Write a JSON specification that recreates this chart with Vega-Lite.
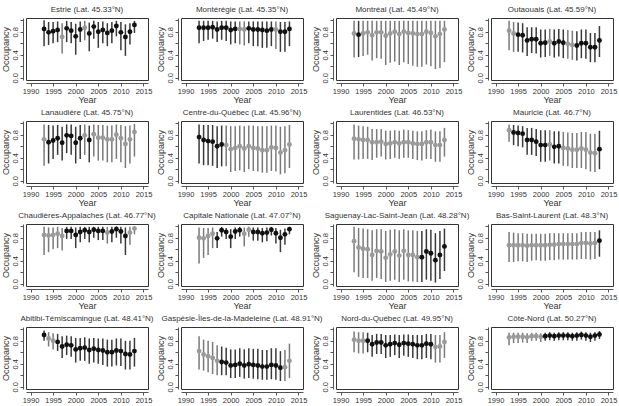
{
"$schema": "https://vega.github.io/schema/vega-lite/v6.json",
"background": "white",
"padding": {"left": 0, "top": 5, "right": 0, "bottom": 0},
"datasets": {
"regions": [
{"p":1,"name":"Estrie (Lat. 45.33°N)"},{"p":2,"name":"Montérégie (Lat. 45.35°N)"},{"p":3,"name":"Montréal (Lat. 45.49°N)"},{"p":4,"name":"Outaouais (Lat. 45.59°N)"},
{"p":5,"name":"Lanaudière (Lat. 45.75°N)"},{"p":6,"name":"Centre-du-Québec (Lat. 45.96°N)"},{"p":7,"name":"Laurentides (Lat. 46.53°N)"},{"p":8,"name":"Mauricie (Lat. 46.7°N)"},
{"p":9,"name":"Chaudières-Appalaches (Lat. 46.77°N)"},{"p":10,"name":"Capitale Nationale (Lat. 47.07°N)"},{"p":11,"name":"Saguenay-Lac-Saint-Jean (Lat. 48.28°N)"},{"p":12,"name":"Bas-Saint-Laurent (Lat. 48.3°N)"},
{"p":13,"name":"Abitibi-Témiscamingue (Lat. 48.41°N)"},{"p":14,"name":"Gaspésie-Îles-de-la-Madeleine (Lat. 48.91°N)"},{"p":15,"name":"Nord-du-Québec (Lat. 49.95°N)"},{"p":16,"name":"Côte-Nord (Lat. 50.27°N)"}
],
"occ": [
{"p":1,"yr":1993,"m":0.85,"lo":0.55,"hi":1.0,"g":"b"},{"p":1,"yr":1994,"m":0.79,"lo":0.57,"hi":0.97,"g":"b"},{"p":1,"yr":1995,"m":0.81,"lo":0.6,"hi":0.97,"g":"b"},{"p":1,"yr":1996,"m":0.83,"lo":0.62,"hi":0.98,"g":"b"},{"p":1,"yr":1997,"m":0.71,"lo":0.42,"hi":0.95,"g":"g"},{"p":1,"yr":1998,"m":0.86,"lo":0.62,"hi":0.99,"g":"b"},{"p":1,"yr":1999,"m":0.82,"lo":0.6,"hi":0.97,"g":"b"},{"p":1,"yr":2000,"m":0.72,"lo":0.4,"hi":0.94,"g":"b"},{"p":1,"yr":2001,"m":0.84,"lo":0.62,"hi":0.98,"g":"b"},{"p":1,"yr":2002,"m":0.87,"lo":0.65,"hi":0.99,"g":"g"},{"p":1,"yr":2003,"m":0.77,"lo":0.46,"hi":0.96,"g":"b"},{"p":1,"yr":2004,"m":0.89,"lo":0.68,"hi":0.99,"g":"b"},{"p":1,"yr":2005,"m":0.8,"lo":0.52,"hi":0.97,"g":"b"},{"p":1,"yr":2006,"m":0.83,"lo":0.6,"hi":0.98,"g":"b"},{"p":1,"yr":2007,"m":0.78,"lo":0.55,"hi":0.95,"g":"b"},{"p":1,"yr":2008,"m":0.82,"lo":0.6,"hi":0.97,"g":"b"},{"p":1,"yr":2009,"m":0.9,"lo":0.72,"hi":0.99,"g":"b"},{"p":1,"yr":2010,"m":0.79,"lo":0.48,"hi":0.97,"g":"b"},{"p":1,"yr":2011,"m":0.71,"lo":0.38,"hi":0.93,"g":"b"},{"p":1,"yr":2012,"m":0.8,"lo":0.58,"hi":0.95,"g":"b"},{"p":1,"yr":2013,"m":0.92,"lo":0.78,"hi":0.99,"g":"b"},
{"p":2,"yr":1993,"m":0.87,"lo":0.6,"hi":0.99,"g":"b"},{"p":2,"yr":1994,"m":0.87,"lo":0.64,"hi":0.99,"g":"b"},{"p":2,"yr":1995,"m":0.87,"lo":0.66,"hi":0.99,"g":"b"},{"p":2,"yr":1996,"m":0.88,"lo":0.68,"hi":0.99,"g":"b"},{"p":2,"yr":1997,"m":0.84,"lo":0.62,"hi":0.98,"g":"b"},{"p":2,"yr":1998,"m":0.87,"lo":0.66,"hi":0.99,"g":"b"},{"p":2,"yr":1999,"m":0.87,"lo":0.64,"hi":0.99,"g":"b"},{"p":2,"yr":2000,"m":0.83,"lo":0.58,"hi":0.98,"g":"b"},{"p":2,"yr":2001,"m":0.85,"lo":0.6,"hi":0.98,"g":"b"},{"p":2,"yr":2002,"m":0.85,"lo":0.58,"hi":0.98,"g":"g"},{"p":2,"yr":2003,"m":0.84,"lo":0.56,"hi":0.98,"g":"g"},{"p":2,"yr":2004,"m":0.86,"lo":0.6,"hi":0.98,"g":"b"},{"p":2,"yr":2005,"m":0.84,"lo":0.55,"hi":0.98,"g":"b"},{"p":2,"yr":2006,"m":0.84,"lo":0.55,"hi":0.98,"g":"b"},{"p":2,"yr":2007,"m":0.83,"lo":0.52,"hi":0.98,"g":"b"},{"p":2,"yr":2008,"m":0.82,"lo":0.52,"hi":0.98,"g":"b"},{"p":2,"yr":2009,"m":0.84,"lo":0.55,"hi":0.98,"g":"b"},{"p":2,"yr":2010,"m":0.84,"lo":0.5,"hi":0.98,"g":"g"},{"p":2,"yr":2011,"m":0.8,"lo":0.45,"hi":0.97,"g":"b"},{"p":2,"yr":2012,"m":0.8,"lo":0.45,"hi":0.97,"g":"b"},{"p":2,"yr":2013,"m":0.85,"lo":0.55,"hi":0.98,"g":"b"},
{"p":3,"yr":1993,"m":0.77,"lo":0.35,"hi":0.99,"g":"g"},{"p":3,"yr":1994,"m":0.75,"lo":0.36,"hi":0.99,"g":"b"},{"p":3,"yr":1995,"m":0.77,"lo":0.38,"hi":0.99,"g":"g"},{"p":3,"yr":1996,"m":0.79,"lo":0.4,"hi":0.99,"g":"g"},{"p":3,"yr":1997,"m":0.74,"lo":0.3,"hi":0.99,"g":"g"},{"p":3,"yr":1998,"m":0.79,"lo":0.34,"hi":0.99,"g":"g"},{"p":3,"yr":1999,"m":0.79,"lo":0.33,"hi":0.99,"g":"g"},{"p":3,"yr":2000,"m":0.73,"lo":0.22,"hi":0.99,"g":"g"},{"p":3,"yr":2001,"m":0.77,"lo":0.26,"hi":0.99,"g":"g"},{"p":3,"yr":2002,"m":0.8,"lo":0.28,"hi":0.99,"g":"g"},{"p":3,"yr":2003,"m":0.76,"lo":0.22,"hi":0.99,"g":"g"},{"p":3,"yr":2004,"m":0.8,"lo":0.27,"hi":0.99,"g":"g"},{"p":3,"yr":2005,"m":0.78,"lo":0.24,"hi":0.99,"g":"g"},{"p":3,"yr":2006,"m":0.77,"lo":0.21,"hi":0.99,"g":"g"},{"p":3,"yr":2007,"m":0.76,"lo":0.19,"hi":0.99,"g":"g"},{"p":3,"yr":2008,"m":0.76,"lo":0.19,"hi":0.99,"g":"g"},{"p":3,"yr":2009,"m":0.8,"lo":0.23,"hi":0.99,"g":"g"},{"p":3,"yr":2010,"m":0.78,"lo":0.2,"hi":0.99,"g":"g"},{"p":3,"yr":2011,"m":0.72,"lo":0.15,"hi":0.99,"g":"g"},{"p":3,"yr":2012,"m":0.76,"lo":0.17,"hi":0.99,"g":"g"},{"p":3,"yr":2013,"m":0.84,"lo":0.27,"hi":0.99,"g":"g"},
{"p":4,"yr":1993,"m":0.82,"lo":0.48,"hi":0.99,"g":"g"},{"p":4,"yr":1994,"m":0.77,"lo":0.45,"hi":0.97,"g":"g"},{"p":4,"yr":1995,"m":0.75,"lo":0.45,"hi":0.96,"g":"b"},{"p":4,"yr":1996,"m":0.74,"lo":0.44,"hi":0.95,"g":"b"},{"p":4,"yr":1997,"m":0.65,"lo":0.38,"hi":0.88,"g":"b"},{"p":4,"yr":1998,"m":0.67,"lo":0.43,"hi":0.88,"g":"b"},{"p":4,"yr":1999,"m":0.67,"lo":0.42,"hi":0.88,"g":"b"},{"p":4,"yr":2000,"m":0.6,"lo":0.35,"hi":0.84,"g":"b"},{"p":4,"yr":2001,"m":0.61,"lo":0.36,"hi":0.84,"g":"b"},{"p":4,"yr":2002,"m":0.63,"lo":0.38,"hi":0.85,"g":"g"},{"p":4,"yr":2003,"m":0.6,"lo":0.35,"hi":0.84,"g":"b"},{"p":4,"yr":2004,"m":0.63,"lo":0.37,"hi":0.85,"g":"b"},{"p":4,"yr":2005,"m":0.61,"lo":0.34,"hi":0.84,"g":"b"},{"p":4,"yr":2006,"m":0.59,"lo":0.33,"hi":0.83,"g":"g"},{"p":4,"yr":2007,"m":0.57,"lo":0.31,"hi":0.82,"g":"g"},{"p":4,"yr":2008,"m":0.56,"lo":0.3,"hi":0.81,"g":"b"},{"p":4,"yr":2009,"m":0.6,"lo":0.34,"hi":0.84,"g":"b"},{"p":4,"yr":2010,"m":0.6,"lo":0.33,"hi":0.84,"g":"b"},{"p":4,"yr":2011,"m":0.53,"lo":0.27,"hi":0.78,"g":"b"},{"p":4,"yr":2012,"m":0.53,"lo":0.27,"hi":0.78,"g":"b"},{"p":4,"yr":2013,"m":0.65,"lo":0.36,"hi":0.9,"g":"b"},
{"p":5,"yr":1993,"m":0.72,"lo":0.26,"hi":0.98,"g":"g"},{"p":5,"yr":1994,"m":0.67,"lo":0.3,"hi":0.97,"g":"b"},{"p":5,"yr":1995,"m":0.7,"lo":0.38,"hi":0.96,"g":"b"},{"p":5,"yr":1996,"m":0.74,"lo":0.45,"hi":0.97,"g":"b"},{"p":5,"yr":1997,"m":0.66,"lo":0.35,"hi":0.94,"g":"b"},{"p":5,"yr":1998,"m":0.79,"lo":0.48,"hi":0.98,"g":"b"},{"p":5,"yr":1999,"m":0.78,"lo":0.45,"hi":0.98,"g":"b"},{"p":5,"yr":2000,"m":0.66,"lo":0.3,"hi":0.94,"g":"b"},{"p":5,"yr":2001,"m":0.74,"lo":0.38,"hi":0.97,"g":"b"},{"p":5,"yr":2002,"m":0.79,"lo":0.45,"hi":0.98,"g":"g"},{"p":5,"yr":2003,"m":0.71,"lo":0.32,"hi":0.96,"g":"b"},{"p":5,"yr":2004,"m":0.81,"lo":0.42,"hi":0.98,"g":"g"},{"p":5,"yr":2005,"m":0.75,"lo":0.35,"hi":0.97,"g":"g"},{"p":5,"yr":2006,"m":0.75,"lo":0.35,"hi":0.97,"g":"g"},{"p":5,"yr":2007,"m":0.72,"lo":0.32,"hi":0.96,"g":"g"},{"p":5,"yr":2008,"m":0.72,"lo":0.32,"hi":0.96,"g":"g"},{"p":5,"yr":2009,"m":0.8,"lo":0.38,"hi":0.98,"g":"g"},{"p":5,"yr":2010,"m":0.74,"lo":0.32,"hi":0.97,"g":"g"},{"p":5,"yr":2011,"m":0.64,"lo":0.22,"hi":0.95,"g":"g"},{"p":5,"yr":2012,"m":0.72,"lo":0.3,"hi":0.96,"g":"g"},{"p":5,"yr":2013,"m":0.85,"lo":0.42,"hi":0.99,"g":"g"},
{"p":6,"yr":1993,"m":0.76,"lo":0.3,"hi":0.98,"g":"b"},{"p":6,"yr":1994,"m":0.71,"lo":0.27,"hi":0.97,"g":"b"},{"p":6,"yr":1995,"m":0.69,"lo":0.27,"hi":0.97,"g":"b"},{"p":6,"yr":1996,"m":0.68,"lo":0.26,"hi":0.97,"g":"b"},{"p":6,"yr":1997,"m":0.6,"lo":0.22,"hi":0.95,"g":"b"},{"p":6,"yr":1998,"m":0.63,"lo":0.25,"hi":0.96,"g":"b"},{"p":6,"yr":1999,"m":0.62,"lo":0.25,"hi":0.96,"g":"g"},{"p":6,"yr":2000,"m":0.55,"lo":0.15,"hi":0.95,"g":"g"},{"p":6,"yr":2001,"m":0.57,"lo":0.17,"hi":0.95,"g":"g"},{"p":6,"yr":2002,"m":0.6,"lo":0.18,"hi":0.96,"g":"g"},{"p":6,"yr":2003,"m":0.56,"lo":0.15,"hi":0.95,"g":"g"},{"p":6,"yr":2004,"m":0.6,"lo":0.2,"hi":0.96,"g":"g"},{"p":6,"yr":2005,"m":0.57,"lo":0.17,"hi":0.96,"g":"g"},{"p":6,"yr":2006,"m":0.56,"lo":0.16,"hi":0.95,"g":"g"},{"p":6,"yr":2007,"m":0.53,"lo":0.14,"hi":0.95,"g":"g"},{"p":6,"yr":2008,"m":0.53,"lo":0.14,"hi":0.95,"g":"g"},{"p":6,"yr":2009,"m":0.58,"lo":0.17,"hi":0.96,"g":"g"},{"p":6,"yr":2010,"m":0.57,"lo":0.16,"hi":0.96,"g":"g"},{"p":6,"yr":2011,"m":0.49,"lo":0.11,"hi":0.94,"g":"g"},{"p":6,"yr":2012,"m":0.53,"lo":0.13,"hi":0.95,"g":"g"},{"p":6,"yr":2013,"m":0.63,"lo":0.22,"hi":0.97,"g":"g"},
{"p":7,"yr":1993,"m":0.73,"lo":0.37,"hi":0.98,"g":"g"},{"p":7,"yr":1994,"m":0.72,"lo":0.37,"hi":0.96,"g":"g"},{"p":7,"yr":1995,"m":0.71,"lo":0.38,"hi":0.95,"g":"g"},{"p":7,"yr":1996,"m":0.71,"lo":0.38,"hi":0.94,"g":"g"},{"p":7,"yr":1997,"m":0.67,"lo":0.36,"hi":0.9,"g":"g"},{"p":7,"yr":1998,"m":0.67,"lo":0.4,"hi":0.9,"g":"g"},{"p":7,"yr":1999,"m":0.68,"lo":0.42,"hi":0.9,"g":"g"},{"p":7,"yr":2000,"m":0.64,"lo":0.37,"hi":0.87,"g":"g"},{"p":7,"yr":2001,"m":0.65,"lo":0.38,"hi":0.87,"g":"g"},{"p":7,"yr":2002,"m":0.67,"lo":0.4,"hi":0.88,"g":"g"},{"p":7,"yr":2003,"m":0.65,"lo":0.38,"hi":0.87,"g":"g"},{"p":7,"yr":2004,"m":0.67,"lo":0.4,"hi":0.89,"g":"g"},{"p":7,"yr":2005,"m":0.67,"lo":0.4,"hi":0.88,"g":"g"},{"p":7,"yr":2006,"m":0.65,"lo":0.38,"hi":0.87,"g":"g"},{"p":7,"yr":2007,"m":0.64,"lo":0.36,"hi":0.86,"g":"g"},{"p":7,"yr":2008,"m":0.64,"lo":0.35,"hi":0.86,"g":"g"},{"p":7,"yr":2009,"m":0.67,"lo":0.38,"hi":0.88,"g":"g"},{"p":7,"yr":2010,"m":0.67,"lo":0.38,"hi":0.89,"g":"g"},{"p":7,"yr":2011,"m":0.62,"lo":0.33,"hi":0.86,"g":"g"},{"p":7,"yr":2012,"m":0.62,"lo":0.33,"hi":0.86,"g":"g"},{"p":7,"yr":2013,"m":0.71,"lo":0.42,"hi":0.92,"g":"g"},
{"p":8,"yr":1993,"m":0.88,"lo":0.68,"hi":0.98,"g":"g"},{"p":8,"yr":1994,"m":0.84,"lo":0.62,"hi":0.97,"g":"b"},{"p":8,"yr":1995,"m":0.83,"lo":0.6,"hi":0.96,"g":"b"},{"p":8,"yr":1996,"m":0.82,"lo":0.58,"hi":0.95,"g":"b"},{"p":8,"yr":1997,"m":0.71,"lo":0.45,"hi":0.92,"g":"b"},{"p":8,"yr":1998,"m":0.71,"lo":0.45,"hi":0.92,"g":"b"},{"p":8,"yr":1999,"m":0.68,"lo":0.43,"hi":0.9,"g":"b"},{"p":8,"yr":2000,"m":0.62,"lo":0.33,"hi":0.88,"g":"b"},{"p":8,"yr":2001,"m":0.62,"lo":0.33,"hi":0.88,"g":"b"},{"p":8,"yr":2002,"m":0.63,"lo":0.35,"hi":0.88,"g":"g"},{"p":8,"yr":2003,"m":0.59,"lo":0.3,"hi":0.86,"g":"b"},{"p":8,"yr":2004,"m":0.6,"lo":0.3,"hi":0.86,"g":"b"},{"p":8,"yr":2005,"m":0.57,"lo":0.26,"hi":0.85,"g":"g"},{"p":8,"yr":2006,"m":0.56,"lo":0.25,"hi":0.84,"g":"g"},{"p":8,"yr":2007,"m":0.54,"lo":0.22,"hi":0.83,"g":"g"},{"p":8,"yr":2008,"m":0.54,"lo":0.22,"hi":0.83,"g":"g"},{"p":8,"yr":2009,"m":0.56,"lo":0.22,"hi":0.85,"g":"g"},{"p":8,"yr":2010,"m":0.54,"lo":0.2,"hi":0.85,"g":"g"},{"p":8,"yr":2011,"m":0.49,"lo":0.16,"hi":0.82,"g":"g"},{"p":8,"yr":2012,"m":0.48,"lo":0.15,"hi":0.82,"g":"g"},{"p":8,"yr":2013,"m":0.55,"lo":0.2,"hi":0.87,"g":"b"},
{"p":9,"yr":1993,"m":0.85,"lo":0.5,"hi":0.99,"g":"g"},{"p":9,"yr":1994,"m":0.84,"lo":0.55,"hi":0.98,"g":"g"},{"p":9,"yr":1995,"m":0.85,"lo":0.6,"hi":0.98,"g":"g"},{"p":9,"yr":1996,"m":0.87,"lo":0.62,"hi":0.99,"g":"g"},{"p":9,"yr":1997,"m":0.83,"lo":0.58,"hi":0.97,"g":"g"},{"p":9,"yr":1998,"m":0.92,"lo":0.78,"hi":0.99,"g":"b"},{"p":9,"yr":1999,"m":0.92,"lo":0.78,"hi":0.99,"g":"b"},{"p":9,"yr":2000,"m":0.85,"lo":0.62,"hi":0.98,"g":"b"},{"p":9,"yr":2001,"m":0.9,"lo":0.72,"hi":0.99,"g":"b"},{"p":9,"yr":2002,"m":0.93,"lo":0.78,"hi":0.99,"g":"b"},{"p":9,"yr":2003,"m":0.9,"lo":0.72,"hi":0.99,"g":"b"},{"p":9,"yr":2004,"m":0.94,"lo":0.8,"hi":0.99,"g":"b"},{"p":9,"yr":2005,"m":0.92,"lo":0.76,"hi":0.99,"g":"b"},{"p":9,"yr":2006,"m":0.92,"lo":0.76,"hi":0.99,"g":"b"},{"p":9,"yr":2007,"m":0.89,"lo":0.7,"hi":0.99,"g":"g"},{"p":9,"yr":2008,"m":0.91,"lo":0.72,"hi":0.99,"g":"b"},{"p":9,"yr":2009,"m":0.95,"lo":0.8,"hi":1.0,"g":"b"},{"p":9,"yr":2010,"m":0.91,"lo":0.7,"hi":0.99,"g":"b"},{"p":9,"yr":2011,"m":0.83,"lo":0.5,"hi":0.98,"g":"b"},{"p":9,"yr":2012,"m":0.89,"lo":0.68,"hi":0.99,"g":"g"},{"p":9,"yr":2013,"m":0.96,"lo":0.86,"hi":1.0,"g":"g"},
{"p":10,"yr":1993,"m":0.8,"lo":0.35,"hi":0.98,"g":"g"},{"p":10,"yr":1994,"m":0.79,"lo":0.45,"hi":0.97,"g":"g"},{"p":10,"yr":1995,"m":0.83,"lo":0.5,"hi":0.97,"g":"g"},{"p":10,"yr":1996,"m":0.87,"lo":0.62,"hi":0.98,"g":"g"},{"p":10,"yr":1997,"m":0.79,"lo":0.62,"hi":0.9,"g":"b"},{"p":10,"yr":1998,"m":0.93,"lo":0.82,"hi":0.99,"g":"b"},{"p":10,"yr":1999,"m":0.9,"lo":0.78,"hi":0.97,"g":"b"},{"p":10,"yr":2000,"m":0.82,"lo":0.62,"hi":0.95,"g":"b"},{"p":10,"yr":2001,"m":0.91,"lo":0.78,"hi":0.98,"g":"b"},{"p":10,"yr":2002,"m":0.93,"lo":0.82,"hi":0.99,"g":"b"},{"p":10,"yr":2003,"m":0.87,"lo":0.65,"hi":0.98,"g":"g"},{"p":10,"yr":2004,"m":0.94,"lo":0.82,"hi":0.99,"g":"g"},{"p":10,"yr":2005,"m":0.9,"lo":0.75,"hi":0.98,"g":"b"},{"p":10,"yr":2006,"m":0.9,"lo":0.75,"hi":0.98,"g":"b"},{"p":10,"yr":2007,"m":0.88,"lo":0.72,"hi":0.97,"g":"b"},{"p":10,"yr":2008,"m":0.89,"lo":0.74,"hi":0.98,"g":"b"},{"p":10,"yr":2009,"m":0.94,"lo":0.84,"hi":0.99,"g":"b"},{"p":10,"yr":2010,"m":0.88,"lo":0.7,"hi":0.97,"g":"b"},{"p":10,"yr":2011,"m":0.8,"lo":0.55,"hi":0.94,"g":"b"},{"p":10,"yr":2012,"m":0.86,"lo":0.68,"hi":0.96,"g":"b"},{"p":10,"yr":2013,"m":0.95,"lo":0.86,"hi":0.99,"g":"b"},
{"p":11,"yr":1993,"m":0.74,"lo":0.2,"hi":0.99,"g":"g"},{"p":11,"yr":1994,"m":0.63,"lo":0.12,"hi":0.97,"g":"g"},{"p":11,"yr":1995,"m":0.61,"lo":0.1,"hi":0.96,"g":"g"},{"p":11,"yr":1996,"m":0.6,"lo":0.1,"hi":0.95,"g":"g"},{"p":11,"yr":1997,"m":0.5,"lo":0.05,"hi":0.93,"g":"g"},{"p":11,"yr":1998,"m":0.57,"lo":0.1,"hi":0.95,"g":"g"},{"p":11,"yr":1999,"m":0.56,"lo":0.08,"hi":0.95,"g":"g"},{"p":11,"yr":2000,"m":0.45,"lo":0.03,"hi":0.92,"g":"g"},{"p":11,"yr":2001,"m":0.51,"lo":0.05,"hi":0.94,"g":"g"},{"p":11,"yr":2002,"m":0.56,"lo":0.07,"hi":0.95,"g":"g"},{"p":11,"yr":2003,"m":0.49,"lo":0.03,"hi":0.93,"g":"g"},{"p":11,"yr":2004,"m":0.57,"lo":0.07,"hi":0.95,"g":"g"},{"p":11,"yr":2005,"m":0.5,"lo":0.04,"hi":0.93,"g":"g"},{"p":11,"yr":2006,"m":0.5,"lo":0.04,"hi":0.93,"g":"g"},{"p":11,"yr":2007,"m":0.46,"lo":0.03,"hi":0.92,"g":"g"},{"p":11,"yr":2008,"m":0.46,"lo":0.03,"hi":0.92,"g":"b"},{"p":11,"yr":2009,"m":0.56,"lo":0.07,"hi":0.95,"g":"b"},{"p":11,"yr":2010,"m":0.53,"lo":0.05,"hi":0.94,"g":"b"},{"p":11,"yr":2011,"m":0.41,"lo":0.02,"hi":0.88,"g":"b"},{"p":11,"yr":2012,"m":0.5,"lo":0.08,"hi":0.92,"g":"b"},{"p":11,"yr":2013,"m":0.65,"lo":0.22,"hi":0.96,"g":"b"},
{"p":12,"yr":1993,"m":0.67,"lo":0.38,"hi":0.9,"g":"g"},{"p":12,"yr":1994,"m":0.67,"lo":0.38,"hi":0.89,"g":"g"},{"p":12,"yr":1995,"m":0.67,"lo":0.39,"hi":0.88,"g":"g"},{"p":12,"yr":1996,"m":0.67,"lo":0.39,"hi":0.88,"g":"g"},{"p":12,"yr":1997,"m":0.66,"lo":0.38,"hi":0.87,"g":"g"},{"p":12,"yr":1998,"m":0.67,"lo":0.4,"hi":0.87,"g":"g"},{"p":12,"yr":1999,"m":0.67,"lo":0.41,"hi":0.87,"g":"g"},{"p":12,"yr":2000,"m":0.67,"lo":0.4,"hi":0.87,"g":"g"},{"p":12,"yr":2001,"m":0.67,"lo":0.4,"hi":0.87,"g":"g"},{"p":12,"yr":2002,"m":0.68,"lo":0.41,"hi":0.88,"g":"g"},{"p":12,"yr":2003,"m":0.68,"lo":0.41,"hi":0.88,"g":"g"},{"p":12,"yr":2004,"m":0.69,"lo":0.42,"hi":0.88,"g":"g"},{"p":12,"yr":2005,"m":0.69,"lo":0.42,"hi":0.88,"g":"g"},{"p":12,"yr":2006,"m":0.69,"lo":0.42,"hi":0.88,"g":"g"},{"p":12,"yr":2007,"m":0.69,"lo":0.42,"hi":0.88,"g":"g"},{"p":12,"yr":2008,"m":0.69,"lo":0.42,"hi":0.88,"g":"g"},{"p":12,"yr":2009,"m":0.71,"lo":0.43,"hi":0.9,"g":"g"},{"p":12,"yr":2010,"m":0.71,"lo":0.43,"hi":0.9,"g":"g"},{"p":12,"yr":2011,"m":0.7,"lo":0.42,"hi":0.9,"g":"g"},{"p":12,"yr":2012,"m":0.71,"lo":0.43,"hi":0.9,"g":"g"},{"p":12,"yr":2013,"m":0.75,"lo":0.47,"hi":0.93,"g":"b"},
{"p":13,"yr":1993,"m":0.9,"lo":0.8,"hi":0.98,"g":"b"},{"p":13,"yr":1994,"m":0.84,"lo":0.7,"hi":0.95,"g":"g"},{"p":13,"yr":1995,"m":0.8,"lo":0.65,"hi":0.93,"g":"g"},{"p":13,"yr":1996,"m":0.78,"lo":0.62,"hi":0.92,"g":"b"},{"p":13,"yr":1997,"m":0.7,"lo":0.5,"hi":0.88,"g":"b"},{"p":13,"yr":1998,"m":0.73,"lo":0.55,"hi":0.89,"g":"b"},{"p":13,"yr":1999,"m":0.72,"lo":0.52,"hi":0.88,"g":"b"},{"p":13,"yr":2000,"m":0.65,"lo":0.42,"hi":0.85,"g":"b"},{"p":13,"yr":2001,"m":0.67,"lo":0.45,"hi":0.85,"g":"b"},{"p":13,"yr":2002,"m":0.68,"lo":0.45,"hi":0.86,"g":"b"},{"p":13,"yr":2003,"m":0.64,"lo":0.4,"hi":0.84,"g":"b"},{"p":13,"yr":2004,"m":0.66,"lo":0.42,"hi":0.85,"g":"b"},{"p":13,"yr":2005,"m":0.64,"lo":0.4,"hi":0.84,"g":"b"},{"p":13,"yr":2006,"m":0.63,"lo":0.38,"hi":0.84,"g":"b"},{"p":13,"yr":2007,"m":0.6,"lo":0.35,"hi":0.82,"g":"b"},{"p":13,"yr":2008,"m":0.6,"lo":0.35,"hi":0.82,"g":"b"},{"p":13,"yr":2009,"m":0.63,"lo":0.37,"hi":0.84,"g":"b"},{"p":13,"yr":2010,"m":0.62,"lo":0.36,"hi":0.84,"g":"b"},{"p":13,"yr":2011,"m":0.57,"lo":0.3,"hi":0.8,"g":"b"},{"p":13,"yr":2012,"m":0.56,"lo":0.3,"hi":0.8,"g":"b"},{"p":13,"yr":2013,"m":0.62,"lo":0.35,"hi":0.85,"g":"b"},
{"p":14,"yr":1993,"m":0.62,"lo":0.3,"hi":0.88,"g":"g"},{"p":14,"yr":1994,"m":0.56,"lo":0.28,"hi":0.82,"g":"g"},{"p":14,"yr":1995,"m":0.53,"lo":0.25,"hi":0.8,"g":"g"},{"p":14,"yr":1996,"m":0.5,"lo":0.22,"hi":0.78,"g":"g"},{"p":14,"yr":1997,"m":0.45,"lo":0.2,"hi":0.72,"g":"g"},{"p":14,"yr":1998,"m":0.43,"lo":0.2,"hi":0.7,"g":"b"},{"p":14,"yr":1999,"m":0.42,"lo":0.2,"hi":0.68,"g":"b"},{"p":14,"yr":2000,"m":0.37,"lo":0.15,"hi":0.65,"g":"b"},{"p":14,"yr":2001,"m":0.38,"lo":0.15,"hi":0.65,"g":"b"},{"p":14,"yr":2002,"m":0.4,"lo":0.17,"hi":0.67,"g":"b"},{"p":14,"yr":2003,"m":0.37,"lo":0.14,"hi":0.65,"g":"b"},{"p":14,"yr":2004,"m":0.39,"lo":0.15,"hi":0.67,"g":"b"},{"p":14,"yr":2005,"m":0.38,"lo":0.14,"hi":0.66,"g":"b"},{"p":14,"yr":2006,"m":0.37,"lo":0.13,"hi":0.66,"g":"b"},{"p":14,"yr":2007,"m":0.35,"lo":0.12,"hi":0.64,"g":"b"},{"p":14,"yr":2008,"m":0.35,"lo":0.12,"hi":0.64,"g":"b"},{"p":14,"yr":2009,"m":0.38,"lo":0.13,"hi":0.67,"g":"b"},{"p":14,"yr":2010,"m":0.37,"lo":0.12,"hi":0.67,"g":"b"},{"p":14,"yr":2011,"m":0.33,"lo":0.1,"hi":0.62,"g":"b"},{"p":14,"yr":2012,"m":0.34,"lo":0.1,"hi":0.64,"g":"g"},{"p":14,"yr":2013,"m":0.45,"lo":0.15,"hi":0.75,"g":"g"},
{"p":15,"yr":1993,"m":0.82,"lo":0.6,"hi":0.96,"g":"g"},{"p":15,"yr":1994,"m":0.8,"lo":0.58,"hi":0.95,"g":"g"},{"p":15,"yr":1995,"m":0.8,"lo":0.58,"hi":0.95,"g":"g"},{"p":15,"yr":1996,"m":0.8,"lo":0.6,"hi":0.94,"g":"b"},{"p":15,"yr":1997,"m":0.74,"lo":0.52,"hi":0.9,"g":"b"},{"p":15,"yr":1998,"m":0.77,"lo":0.57,"hi":0.92,"g":"b"},{"p":15,"yr":1999,"m":0.77,"lo":0.57,"hi":0.92,"g":"b"},{"p":15,"yr":2000,"m":0.72,"lo":0.5,"hi":0.9,"g":"b"},{"p":15,"yr":2001,"m":0.74,"lo":0.52,"hi":0.9,"g":"b"},{"p":15,"yr":2002,"m":0.76,"lo":0.55,"hi":0.91,"g":"b"},{"p":15,"yr":2003,"m":0.73,"lo":0.5,"hi":0.9,"g":"b"},{"p":15,"yr":2004,"m":0.76,"lo":0.54,"hi":0.91,"g":"b"},{"p":15,"yr":2005,"m":0.75,"lo":0.52,"hi":0.91,"g":"b"},{"p":15,"yr":2006,"m":0.74,"lo":0.5,"hi":0.9,"g":"b"},{"p":15,"yr":2007,"m":0.72,"lo":0.48,"hi":0.9,"g":"b"},{"p":15,"yr":2008,"m":0.72,"lo":0.48,"hi":0.9,"g":"b"},{"p":15,"yr":2009,"m":0.75,"lo":0.5,"hi":0.92,"g":"b"},{"p":15,"yr":2010,"m":0.74,"lo":0.48,"hi":0.92,"g":"b"},{"p":15,"yr":2011,"m":0.69,"lo":0.42,"hi":0.9,"g":"g"},{"p":15,"yr":2012,"m":0.7,"lo":0.42,"hi":0.9,"g":"g"},{"p":15,"yr":2013,"m":0.78,"lo":0.5,"hi":0.95,"g":"g"},
{"p":16,"yr":1993,"m":0.86,"lo":0.72,"hi":0.94,"g":"g"},{"p":16,"yr":1994,"m":0.87,"lo":0.76,"hi":0.94,"g":"g"},{"p":16,"yr":1995,"m":0.87,"lo":0.76,"hi":0.94,"g":"g"},{"p":16,"yr":1996,"m":0.87,"lo":0.77,"hi":0.94,"g":"g"},{"p":16,"yr":1997,"m":0.86,"lo":0.76,"hi":0.93,"g":"g"},{"p":16,"yr":1998,"m":0.88,"lo":0.8,"hi":0.94,"g":"g"},{"p":16,"yr":1999,"m":0.88,"lo":0.8,"hi":0.94,"g":"g"},{"p":16,"yr":2000,"m":0.87,"lo":0.78,"hi":0.93,"g":"g"},{"p":16,"yr":2001,"m":0.88,"lo":0.8,"hi":0.94,"g":"b"},{"p":16,"yr":2002,"m":0.89,"lo":0.81,"hi":0.95,"g":"b"},{"p":16,"yr":2003,"m":0.88,"lo":0.8,"hi":0.94,"g":"b"},{"p":16,"yr":2004,"m":0.89,"lo":0.81,"hi":0.95,"g":"b"},{"p":16,"yr":2005,"m":0.89,"lo":0.81,"hi":0.95,"g":"b"},{"p":16,"yr":2006,"m":0.89,"lo":0.81,"hi":0.95,"g":"b"},{"p":16,"yr":2007,"m":0.88,"lo":0.8,"hi":0.94,"g":"b"},{"p":16,"yr":2008,"m":0.89,"lo":0.8,"hi":0.95,"g":"b"},{"p":16,"yr":2009,"m":0.9,"lo":0.82,"hi":0.96,"g":"b"},{"p":16,"yr":2010,"m":0.89,"lo":0.8,"hi":0.95,"g":"b"},{"p":16,"yr":2011,"m":0.87,"lo":0.78,"hi":0.94,"g":"b"},{"p":16,"yr":2012,"m":0.89,"lo":0.8,"hi":0.95,"g":"b"},{"p":16,"yr":2013,"m":0.91,"lo":0.83,"hi":0.97,"g":"b"}
]
},
"data": {"name": "occ"},
"transform": [{"lookup": "p", "from": {"data": {"name": "regions"}, "key": "p", "fields": ["name"]}}],
"facet": {"field": "name", "type": "nominal", "sort": {"field": "p", "op": "min"},
  "header": {"title": null, "labelFont": "Liberation Sans", "labelFontSize": 8, "labelColor": "#333", "labelPadding": 4}},
"columns": 4,
"bounds": "flush",
"spacing": {"row": 41, "column": 33},
"resolve": {"axis": {"x": "independent", "y": "independent"}},
"spec": {
  "width": 122,
  "height": 62,
  "encoding": {
    "x": {"field": "yr", "type": "quantitative", "scale": {"domain": [1989, 2016], "nice": false, "zero": false},
      "axis": {"title": "Year", "values": [1990, 1995, 2000, 2005, 2010, 2015], "format": "d", "offset": 3, "tickSize": 3, "labelPadding": 1, "titlePadding": 1, "grid": false, "labelOverlap": false, "labelFontSize": 7.5}},
    "color": {"field": "g", "type": "nominal", "scale": {"domain": ["b", "g"], "range": ["#3a3a3a", "#7a7a7a"]}, "legend": null}
  },
  "layer": [
    {"mark": {"type": "rule", "strokeWidth": 1.5},
     "encoding": {
       "y": {"field": "lo", "type": "quantitative", "scale": {"domain": [-0.04, 1.04], "nice": false},
         "axis": {"title": "Occupancy", "values": [0, 0.2, 0.4, 0.6, 0.8, 1.0], "labelExpr": "datum.value == 0 ? '0.0' : (abs(datum.value - 0.4) < 0.01 ? '0.4' : (abs(datum.value - 0.8) < 0.01 ? '0.8' : ''))", "labelAngle": -90, "labelAlign": "center", "labelBaseline": "bottom", "offset": 3, "tickSize": 3, "labelPadding": 1, "titlePadding": 1, "grid": false, "labelOverlap": false, "labelFontSize": 7.5}},
       "y2": {"field": "hi"}
     }},
    {"mark": {"type": "point", "filled": true, "size": 24, "opacity": 1},
     "encoding": {
       "y": {"field": "m", "type": "quantitative", "scale": {"domain": [-0.04, 1.04], "nice": false},
         "axis": {"title": "Occupancy", "values": [0, 0.2, 0.4, 0.6, 0.8, 1.0], "labelExpr": "datum.value == 0 ? '0.0' : (abs(datum.value - 0.4) < 0.01 ? '0.4' : (abs(datum.value - 0.8) < 0.01 ? '0.8' : ''))", "labelAngle": -90, "labelAlign": "center", "labelBaseline": "bottom", "offset": 3, "tickSize": 3, "labelPadding": 1, "titlePadding": 1, "grid": false, "labelOverlap": false, "labelFontSize": 7.5}},
       "fill": {"field": "g", "type": "nominal", "scale": {"domain": ["b", "g"], "range": ["#111111", "#9a9a9a"]}, "legend": null}
     }}
  ]
},
"config": {
  "font": "Liberation Sans",
  "view": {"stroke": "#333", "strokeWidth": 1},
  "axis": {"labelFont": "Liberation Sans", "titleFont": "Liberation Sans", "labelFontSize": 8, "titleFontSize": 9, "titleFontWeight": "normal", "labelColor": "#333", "titleColor": "#333", "domainColor": "#555", "tickColor": "#555"}
}
}
